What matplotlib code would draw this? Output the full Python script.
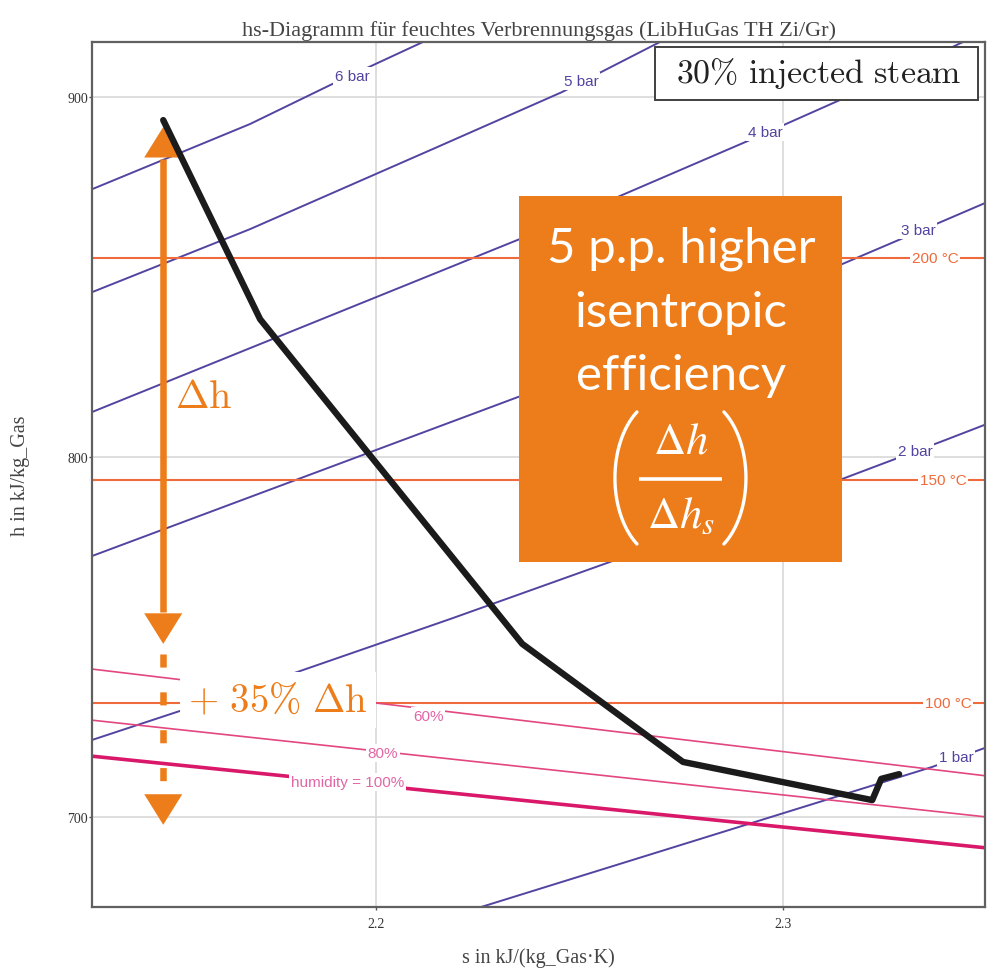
import numpy as np
import matplotlib
matplotlib.use("Agg")
import matplotlib.pyplot as plt
from matplotlib.patches import Rectangle, FancyArrowPatch, ArrowStyle

# ---- expansion line in the h-s plane -------------------------------------
process_s = [2.1477, 2.1715, 2.2359, 2.2754, 2.3170, 2.3219, 2.3241, 2.3285]
process_h = [893.6, 838.3, 748.1, 715.3, 705.8, 704.7, 710.6, 711.9]

# ---- isobars --------------------------------------------------------------
isobar_labels = ["6 bar", "5 bar", "4 bar", "3 bar", "2 bar", "1 bar"]
isobar_s = [
    [2.1302, 2.1690, 2.1892, 2.2115, 2.2170],
    [2.1302, 2.1690, 2.2140, 2.2457, 2.2673, 2.2722],
    [2.1302, 2.2354, 2.2907, 2.3140, 2.3442, 2.3509],
    [2.1302, 2.2354, 2.3145, 2.3398, 2.3501],
    [2.1302, 2.1771, 2.2182, 2.3145, 2.3391, 2.3501],
    [2.2241, 2.3366, 2.3501],
]
isobar_h = [
    [874.4, 892.5, 903.6, 915.3, 918.3],
    [845.8, 863.3, 885.6, 901.4, 913.9, 916.7],
    [812.5, 860.6, 887.5, 899.2, 915.3, 918.9],
    [772.5, 816.9, 853.6, 865.8, 870.8],
    [721.4, 738.9, 755.0, 793.9, 804.4, 809.2],
    [674.4, 713.9, 719.4],
]
isobar_label_s = [2.1941, 2.2504, 2.2956, 2.3332, 2.3324, 2.3425]
isobar_label_h = [905.8, 904.4, 890.3, 863.1, 801.7, 716.7]

# ---- isotherms ------------------------------------------------------------
temp_labels = ["200 °C", "150 °C", "100 °C"]
temp_h = [855.3, 793.6, 731.7]
temp_label_s = [2.3373, 2.3393, 2.3405]

# ---- relative humidity lines ----------------------------------------------
hum_labels = ["60%", "80%", "humidity = 100%"]
hum_s_ends = [2.1302, 2.3501]
hum_h_left = [741.1, 726.9, 716.9]
hum_h_right = [711.4, 700.0, 691.4]
hum_label_s = [2.2128, 2.2017, 2.1929]
hum_label_h = [728.1, 717.8, 709.7]

# ---- enthalpy-drop annotation ---------------------------------------------
dh_s = 2.1477
dh_top = 891.7
dh_bottom = 748.1
dh_gain = 0.35          # additional enthalpy drop, as a share of dh

x_ticks = [2.2, 2.3]
x_ticklabels = ["2.2", "2.3"]
y_ticks = [700, 800, 900]
y_ticklabels = ["700", "800", "900"]

PURPLE = "#5244A0"
TEMP = "#EF6A3C"
PINK = "#E2477F"
PINK_TXT = "#E266A6"
MAGENTA = "#D9186A"
ORANGE = "#ED7D1A"
SERIF = "Liberation Serif"
SANS = "Liberation Sans"

W, H = 989, 970
fig = plt.figure(figsize=(W / 100, H / 100), dpi=100)
ax = fig.add_axes([92 / W, 1 - 908 / H, (985 - 92) / W, (908 - 43) / H])
ax.set_xlim(2.1302, 2.3496)
ax.set_ylim(675.0, 915.3)

ax.set_xticks(x_ticks)
ax.set_xticklabels(x_ticklabels)
ax.set_yticks(y_ticks)
ax.set_yticklabels(y_ticklabels)
ax.tick_params(length=2, width=1, color="#555555", labelsize=10, pad=1,
               labelcolor="#333333")
ax.tick_params(axis="x", pad=5)
for lab in ax.get_xticklabels() + ax.get_yticklabels():
    lab.set_fontfamily(SERIF)
ax.grid(True, color="#D8D8D8", lw=1.2, zorder=0)
ax.set_axisbelow(True)
for sp in ax.spines.values():
    sp.set_color("#606060")
    sp.set_linewidth(1.6)

ax.set_title("hs-Diagramm für feuchtes Verbrennungsgas (LibHuGas TH Zi/Gr)",
             fontfamily=SERIF, fontsize=16, color="#444444", pad=5)
ax.set_xlabel("s in kJ/(kg_Gas·K)", fontfamily=SERIF, fontsize=14.5,
              color="#444444")
ax.set_ylabel("h in kJ/kg_Gas", fontfamily=SERIF, fontsize=14.5,
              color="#444444")
ax.xaxis.set_label_coords(0.5, -0.047)
ax.yaxis.set_label_coords(-0.069, 0.50)

label_box = dict(boxstyle="square,pad=0.12", fc="white", ec="none")

# isobars
for s_vals, h_vals, name, ls, lh in zip(isobar_s, isobar_h, isobar_labels,
                                         isobar_label_s, isobar_label_h):
    ax.plot(s_vals, h_vals, color=PURPLE, lw=1.4, zorder=2)
    ax.text(ls, lh, name, color=PURPLE, fontsize=11, fontfamily=SANS,
            ha="center", va="center", bbox=label_box, zorder=3)

# isotherms
for h_val, name, ls in zip(temp_h, temp_labels, temp_label_s):
    ax.axhline(h_val, color=TEMP, lw=1.5, zorder=2)
    ax.text(ls, h_val, name, color=TEMP, fontsize=11, fontfamily=SANS,
            ha="center", va="center", bbox=label_box, zorder=3)

# humidity lines
for i, (hl, hr, name, ls, lh) in enumerate(zip(hum_h_left, hum_h_right,
                                               hum_labels, hum_label_s,
                                               hum_label_h)):
    full = i == len(hum_labels) - 1
    ax.plot(hum_s_ends, [hl, hr], color=MAGENTA if full else PINK,
            lw=2.6 if full else 1.2, zorder=2)
    ax.text(ls, lh, name, color=PINK_TXT, fontsize=11, fontfamily=SANS,
            ha="center", va="center", bbox=label_box, zorder=3)

# expansion line
ax.plot(process_s, process_h, color="#1B1B1B", lw=4.6, zorder=6,
        solid_joinstyle="round", solid_capstyle="round")

# enthalpy-drop arrow
head_len_pt, head_hw_pt, shaft_pt = 22.0, 13.7, 4.7
head_style = ArrowStyle("-|>", head_length=head_len_pt, head_width=head_hw_pt)


def arrow_head(s, h_from, h_to):
    ax.add_patch(FancyArrowPatch((s, h_from), (s, h_to), arrowstyle=head_style,
                                 mutation_scale=1, shrinkA=0, shrinkB=0,
                                 lw=0, color=ORANGE, zorder=5))


span = dh_top - dh_bottom
head_h = 0.062 * span
ax.plot([dh_s, dh_s], [dh_top - head_h, dh_bottom + head_h],
        color=ORANGE, lw=shaft_pt, solid_capstyle="butt", zorder=5)
arrow_head(dh_s, dh_top - head_h, dh_top)
arrow_head(dh_s, dh_bottom + head_h, dh_bottom)

# extension by the stated share of dh
dh_extra_tip = dh_bottom - dh_gain * span
ax.plot([dh_s, dh_s], [dh_bottom - 0.02 * span, dh_extra_tip + head_h],
        color=ORANGE, lw=shaft_pt, linestyle=(0, (2.0, 3.8)),
        dash_capstyle="butt", zorder=5)
arrow_head(dh_s, dh_extra_tip + head_h, dh_extra_tip)

ax.text(2.1506, 813.9, r"$\Delta\mathrm{h}$", math_fontfamily="cm",
        fontsize=29, color=ORANGE, ha="left", va="baseline", zorder=7)
ax.text(2.1538, 732.5, r"$+\ 35\%\ \Delta\mathrm{h}$", math_fontfamily="cm",
        fontsize=28, color=ORANGE, ha="left", va="center", zorder=7,
        bbox=dict(boxstyle="square,pad=0.22", fc="white", ec="none"))

# legend-style caption
ax.add_patch(Rectangle((0.6305, 0.9329), 0.3617, 0.0613,
                       transform=ax.transAxes, fc="white", ec="#404040",
                       lw=1.4, zorder=8))
ax.text(0.8141, 0.9538, r"$\mathrm{30\%\ injected\ steam}$",
        math_fontfamily="cm", fontsize=24.4, color="#222222",
        transform=ax.transAxes, ha="center", va="baseline", zorder=9)

# efficiency call-out
ax.add_patch(Rectangle((0.4782, 0.3988), 0.3617, 0.4232,
                       transform=ax.transAxes, fc=ORANGE, ec="none", zorder=8))
for txt, y in zip(["5 p.p. higher", "isentropic", "efficiency"],
                  [0.7468, 0.6717, 0.5988]):
    ax.text(0.6596, y, txt, fontfamily="Lato", fontsize=35.5, color="white",
            transform=ax.transAxes, ha="center", va="baseline", zorder=9)

# ratio dh / dh_s in round brackets
ax.text(0.6596, 0.5260, r"$\Delta h$", math_fontfamily="stix", fontsize=32,
        color="white", transform=ax.transAxes, ha="center", va="baseline",
        zorder=9)
ax.text(0.6596, 0.4393, r"$\Delta h_s$", math_fontfamily="stix", fontsize=32,
        color="white", transform=ax.transAxes, ha="center", va="baseline",
        zorder=9)
ax.plot([0.6125, 0.7055], [0.4948, 0.4948], color="white", lw=2.6,
        transform=ax.transAxes, solid_capstyle="butt", zorder=9)
t_left = np.radians(np.linspace(124.4, 235.6, 60))
t_right = np.radians(np.linspace(-55.6, 55.6, 60))
for cx, t in ((0.6423, t_left), (0.6756, t_right)):
    ax.plot(cx + 0.0567 * np.cos(t), 0.4960 + 0.0925 * np.sin(t),
            color="white", lw=2.4, transform=ax.transAxes, zorder=9,
            solid_capstyle="round")

fig.savefig("out.png", dpi=100)
